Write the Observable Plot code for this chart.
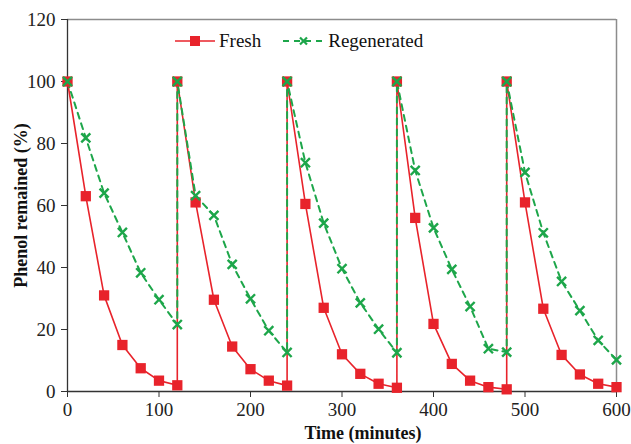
<!DOCTYPE html>
<html>
<head>
<meta charset="utf-8">
<script src="https://cdn.jsdelivr.net/npm/d3@7"></script>
<script src="https://cdn.jsdelivr.net/npm/@observablehq/plot@0.6"></script>
<style>
  body { margin: 0; background: #fff; }
  #wrap { position: relative; width: 631px; height: 444px; font-family: "Liberation Serif", "Times New Roman", serif; }
  #wrap svg text { font-family: "Liberation Serif", "Times New Roman", serif !important; }
  #legend { position: absolute; left: 175px; top: 30px; display: flex; align-items: center; font-size: 19px; color: #111; font-family: "Liberation Serif", "Times New Roman", serif; }
  #legend .item { display: flex; align-items: center; }
  #legend svg { margin-right: 4px; }
</style>
</head>
<body>
<div id="wrap">
  <div id="legend">
    <div class="item" style="margin-right:22px">
      <svg width="40" height="14"><line x1="0" y1="7" x2="40" y2="7" stroke="#E8232B" stroke-width="1.6"/><rect x="15" y="2" width="10" height="10" fill="#E8232B"/></svg>
      <span>Fresh</span>
    </div>
    <div class="item">
      <svg width="41" height="14"><line x1="0" y1="7" x2="41" y2="7" stroke="#1DA64A" stroke-width="2" stroke-dasharray="6,5"/><path d="M17,3.5L24,10.5M24,3.5L17,10.5" stroke="#1DA64A" stroke-width="2.2"/></svg>
      <span>Regenerated</span>
    </div>
  </div>
</div>
<script>
const times = [0,20,40,60,80,100,120, 120,140,160,180,200,220,240, 240,260,280,300,320,340,360, 360,380,400,420,440,460,480, 480,500,520,540,560,580,600];
const fresh = [100,63,31,15,7.5,3.5,2, 100,61,29.6,14.5,7.2,3.5,1.9, 100,60.5,27,12,5.7,2.5,1.2, 100,56,21.8,8.9,3.5,1.4,0.7, 100,61,26.7,11.8,5.5,2.5,1.4];
const regenerated = [100,81.8,64,51.3,38.3,29.6,21.6, 100,63.2,56.8,41,29.9,19.6,12.6, 100,73.8,54.3,39.6,28.6,20.1,12.5, 100,71.3,52.8,39.4,27.4,13.8,12.7, 100,70.7,51.2,35.5,26.1,16.5,10.2];
const xTicks = [0,100,200,300,400,500,600];
const yTicks = [0,20,40,60,80,100,120];
const xLabel = "Time (minutes)";
const yLabel = "Phenol remained (%)";

const freshData = times.map((t, i) => ({t, v: fresh[i]}));
const regenData = times.map((t, i) => ({t, v: regenerated[i]}));

const RED = "#E8232B", GREEN = "#1DA64A";
const FONT = "'Liberation Serif', 'Times New Roman', serif";

const chart = Plot.plot({
  width: 631,
  height: 444,
  marginLeft: 67,
  marginRight: 15,
  marginTop: 19,
  marginBottom: 53,
  style: { fontFamily: FONT, fontSize: "19px", color: "#222", background: "#fff" },
  x: { domain: [0, 600] },
  y: { domain: [0, 120] },
  marks: [
    Plot.ruleY([120], { stroke: "#8c8c8c", strokeWidth: 1.5 }),
    Plot.ruleX([600], { stroke: "#8c8c8c", strokeWidth: 1.5 }),
    Plot.axisX({ ticks: xTicks, tickFormat: d => d, tickSize: 6, tickPadding: 5, label: null, stroke: "#333", fill: "#222", fontSize: 19, fontFamily: FONT }),
    Plot.axisY({ ticks: yTicks, tickFormat: d => d, tickSize: 6, tickPadding: 6, label: null, stroke: "#333", fill: "#222", fontSize: 19, fontFamily: FONT }),
    Plot.ruleX([0], { stroke: "#333", strokeWidth: 1.3 }),
    Plot.ruleY([0], { stroke: "#333", strokeWidth: 1.3 }),
    Plot.line(freshData, { x: "t", y: "v", stroke: RED, strokeWidth: 1.6, curve: "linear" }),
    Plot.line(regenData, { x: "t", y: "v", stroke: GREEN, strokeWidth: 2, strokeDasharray: "6,5" }),
    Plot.dot(freshData, { x: "t", y: "v", symbol: "square", r: 5.8, fill: RED, stroke: "none" }),
    Plot.dot(regenData, { x: "t", y: "v", symbol: "times", r: 4.2, stroke: GREEN, strokeWidth: 2.4 }),
    Plot.text([xLabel], { frameAnchor: "bottom", textAnchor: "middle", lineAnchor: "middle", dx: 21, dy: 42, fontWeight: "bold", fontSize: 18, fill: "#111", fontFamily: FONT }),
    Plot.text([yLabel], { frameAnchor: "left", textAnchor: "middle", lineAnchor: "middle", dx: -46, dy: 0, rotate: -90, fontWeight: "bold", fontSize: 18, fill: "#111", fontFamily: FONT })
  ]
});
document.getElementById("wrap").prepend(chart);
</script>
</body>
</html>
